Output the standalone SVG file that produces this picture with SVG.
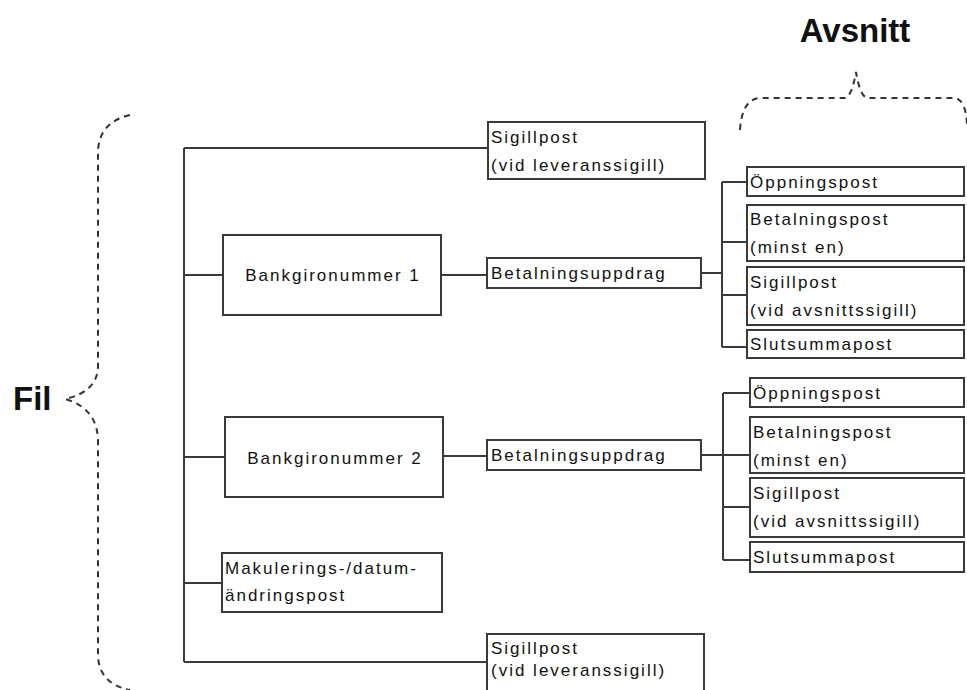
<svg xmlns="http://www.w3.org/2000/svg" width="967" height="690" viewBox="0 0 967 690">
<style>
  .box { fill: #ffffff; stroke: #3a3a3a; stroke-width: 2; }
  .t { font-family: "Liberation Sans", Arial, sans-serif; font-size: 17px; letter-spacing: 2px; fill: #111; }
  .tc { text-anchor: middle; }
  .big { font-family: "Liberation Sans", Arial, sans-serif; font-size: 33px; font-weight: bold; fill: #111; }
  .ln { fill: none; stroke: #3a3a3a; stroke-width: 2; }
  .brace { fill: none; stroke: #333; stroke-width: 2; stroke-dasharray: 6 5; }
</style>
<rect width="967" height="690" fill="#ffffff"/>

<g id="braces">
  <path class="brace" d="M130,115 Q100,122 98,150 L98,367 Q97,392 65,399 Q97,408 98,440 L98,657 Q100,684 130,690"/>
  <path class="brace" d="M740,130 Q742,99 760,98 L845,98 Q852,96 856,72 Q860,96 867,98 L955,98 Q966,100 967,125"/>
  <text class="big" x="13" y="410">Fil</text>
  <text class="big" x="855" y="42" text-anchor="middle">Avsnitt</text>
</g>

<g id="connectors">
  <path class="ln" d="M184,148 L184,662"/>
  <path class="ln" d="M184,148 L488,148"/>
  <path class="ln" d="M184,275 L223,275"/>
  <path class="ln" d="M184,457 L225,457"/>
  <path class="ln" d="M184,583 L222,583"/>
  <path class="ln" d="M184,662 L487,662"/>
  <path class="ln" d="M441,275 L487,275"/>
  <path class="ln" d="M443,456 L487,456"/>
  <path class="ln" d="M701,273 L722,273"/>
  <path class="ln" d="M722,182 L722,347"/>
  <path class="ln" d="M722,182 L747,182 M722,242 L747,242 M722,295 L747,295 M722,347 L747,347"/>
  <path class="ln" d="M701,455 L750,455"/>
  <path class="ln" d="M723,393 L723,560"/>
  <path class="ln" d="M723,393 L750,393 M723,507 L750,507 M723,560 L750,560"/>
</g>

<g id="sigillpost-top">
  <rect class="box" x="488" y="122" width="217" height="57"/>
  <text class="t" x="491" y="143">Sigillpost</text>
  <text class="t" x="491" y="171">(vid leveranssigill)</text>
</g>

<g id="bankgiro1">
  <rect class="box" x="223" y="235" width="218" height="80"/>
  <text class="t tc" x="333" y="281">Bankgironummer 1</text>
</g>

<g id="betalningsuppdrag1">
  <rect class="box" x="487" y="258" width="214" height="30"/>
  <text class="t" x="491" y="279">Betalningsuppdrag</text>
</g>

<g id="oppningspost1">
  <rect class="box" x="747" y="167" width="217" height="29"/>
  <text class="t" x="750" y="188">Öppningspost</text>
</g>
<g id="betalningspost1">
  <rect class="box" x="747" y="205" width="217" height="56"/>
  <text class="t" x="750" y="225">Betalningspost</text>
  <text class="t" x="750" y="253">(minst en)</text>
</g>
<g id="sigillpost-avsnitt1">
  <rect class="box" x="747" y="267" width="217" height="58"/>
  <text class="t" x="750" y="288">Sigillpost</text>
  <text class="t" x="750" y="316">(vid avsnittssigill)</text>
</g>
<g id="slutsummapost1">
  <rect class="box" x="747" y="330" width="217" height="28"/>
  <text class="t" x="750" y="350">Slutsummapost</text>
</g>

<g id="bankgiro2">
  <rect class="box" x="225" y="417" width="218" height="80"/>
  <text class="t tc" x="335" y="464">Bankgironummer 2</text>
</g>

<g id="betalningsuppdrag2">
  <rect class="box" x="487" y="440" width="214" height="30"/>
  <text class="t" x="491" y="461">Betalningsuppdrag</text>
</g>

<g id="oppningspost2">
  <rect class="box" x="750" y="378" width="214" height="29"/>
  <text class="t" x="753" y="399">Öppningspost</text>
</g>
<g id="betalningspost2">
  <rect class="box" x="750" y="417" width="214" height="56"/>
  <text class="t" x="753" y="438">Betalningspost</text>
  <text class="t" x="753" y="466">(minst en)</text>
</g>
<g id="sigillpost-avsnitt2">
  <rect class="box" x="750" y="478" width="214" height="59"/>
  <text class="t" x="753" y="499">Sigillpost</text>
  <text class="t" x="753" y="527">(vid avsnittssigill)</text>
</g>
<g id="slutsummapost2">
  <rect class="box" x="750" y="542" width="214" height="30"/>
  <text class="t" x="753" y="563">Slutsummapost</text>
</g>

<g id="makulering">
  <rect class="box" x="222" y="553" width="220" height="59"/>
  <text class="t" x="225" y="574">Makulerings-/datum-</text>
  <text class="t" x="225" y="601">ändringspost</text>
</g>

<g id="sigillpost-bottom">
  <rect class="box" x="487" y="634" width="217" height="62"/>
  <text class="t" x="491" y="654">Sigillpost</text>
  <text class="t" x="491" y="676">(vid leveranssigill)</text>
</g>
</svg>
